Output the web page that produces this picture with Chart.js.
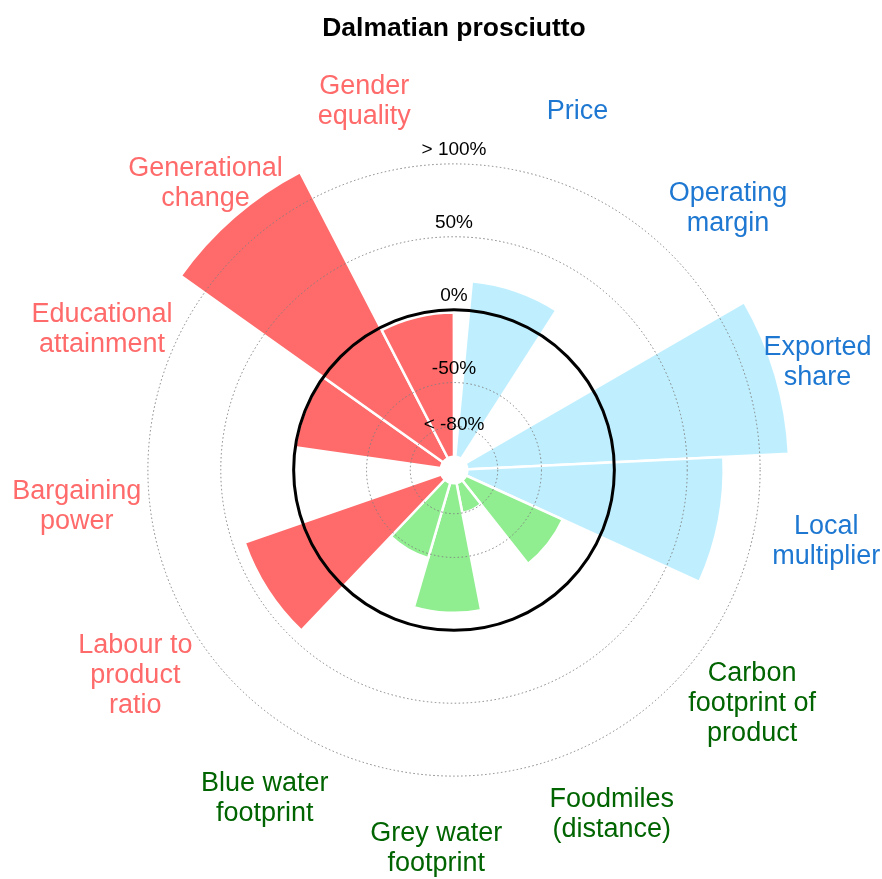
<!DOCTYPE html>
<html>
<head>
<meta charset="utf-8">
<title>Dalmatian prosciutto</title>
<script src="https://cdn.jsdelivr.net/npm/chart.js@4.4.1/dist/chart.umd.min.js"></script>
<style>
  html, body { margin: 0; padding: 0; background: #fff; }
  #wrap { width: 882px; height: 879px; position: relative; }
</style>
</head>
<body>
<div id="wrap"><canvas id="chart"></canvas></div>
<script>
// categories run clockwise from the top, one label line per entry
const categories = [
  ['Price'], ['Operating', 'margin'], ['Exported', 'share'], ['Local', 'multiplier'],
  ['Carbon', 'footprint of', 'product'], ['Foodmiles', '(distance)'], ['Grey water', 'footprint'], ['Blue water', 'footprint'],
  ['Labour to', 'product', 'ratio'], ['Bargaining', 'power'], ['Educational', 'attainment'], ['Generational', 'change'], ['Gender', 'equality']
];
// % change; -100 = nothing shown, 120 = capped "> 100%"
const values = [20, -100, 120, 75, -28, -80, -12, -47, 42, -100, 0, 120, -2];
const groups = ['economic', 'economic', 'economic', 'economic',
  'environmental', 'environmental', 'environmental', 'environmental',
  'social', 'social', 'social', 'social', 'social'];
const tickValues = [-80, -50, 0, 50, 100];
const tickLabels = ['< -80%', '-50%', '0%', '50%', '> 100%'];

const barColors = { economic: '#BFEFFF', environmental: '#90EE90', social: '#FF6A6A' };
const textColors = { economic: '#1E78D2', environmental: '#006400', social: '#FF6A6A' };
const FONT = '"Liberation Sans", Arial, Helvetica, sans-serif';

// white hole in the middle, tick texts above the rings, category names round the outside
const polarExtras = {
  id: 'polarExtras',
  afterDatasetsDraw(chart) {
    const r = chart.scales.r;
    const ctx = chart.ctx;
    ctx.save();
    ctx.fillStyle = '#fff';
    ctx.beginPath();
    ctx.arc(r.xCenter, r.yCenter, r.getDistanceFromCenterForValue(-100), 0, Math.PI * 2);
    ctx.fill();
    ctx.restore();
  },
  afterDraw(chart) {
    const r = chart.scales.r;
    const ctx = chart.ctx;
    ctx.save();
    ctx.textAlign = 'center';
    ctx.textBaseline = 'middle';

    ctx.font = '19px ' + FONT;
    ctx.fillStyle = '#000';
    tickLabels.forEach((lab, i) => {
      const d = r.getDistanceFromCenterForValue(tickValues[i]);
      ctx.fillText(lab, r.xCenter, r.yCenter - d - (i === 0 ? 2 : 14));
    });

    ctx.font = '27px ' + FONT;
    const arcs = chart.getDatasetMeta(0).data;
    const labR = r.drawingArea;
    arcs.forEach((arc, i) => {
      const a = (arc.startAngle + arc.endAngle) / 2;
      const x = r.xCenter + Math.cos(a) * labR;
      const y = r.yCenter + Math.sin(a) * labR;
      const lines = categories[i];
      ctx.fillStyle = textColors[groups[i]];
      lines.forEach((ln, j) => ctx.fillText(ln, x, y + (j - (lines.length - 1) / 2) * 30));
    });
    ctx.restore();
  }
};

new Chart(document.getElementById('chart'), {
  type: 'polarArea',
  data: {
    labels: categories.map(c => c.join(' ')),
    datasets: [{
      data: values,
      backgroundColor: groups.map(g => barColors[g]),
      borderColor: '#fff',
      borderWidth: 2.5,
      angle: 360 / 13.2
    }]
  },
  options: {
    responsive: true,
    maintainAspectRatio: false,
    animation: false,
    layout: { padding: { left: 26, right: 0, top: 0, bottom: 29.5 } },
    plugins: {
      legend: { display: false },
      tooltip: { enabled: false },
      title: {
        display: true,
        text: 'Dalmatian prosciutto',
        color: '#000',
        font: { family: FONT, size: 26.5, weight: 'bold', lineHeight: 1.2 },
        padding: { top: 13, bottom: 45.7 }
      }
    },
    scales: {
      r: {
        min: -110,
        max: 150,
        startAngle: 5.4,
        afterBuildTicks: s => { s.ticks = tickValues.map(v => ({ value: v })); },
        ticks: { display: false },
        grid: {
          z: 1,
          circular: true,
          color: c => c.tick.value === 0 ? '#000' : '#808080',
          lineWidth: c => c.tick.value === 0 ? 3 : 1
        },
        border: { dash: c => c.tick.value === 0 ? [] : [1.5, 2.5] },
        angleLines: { display: false },
        pointLabels: { display: false }
      }
    }
  },
  plugins: [polarExtras]
});
</script>
</body>
</html>
